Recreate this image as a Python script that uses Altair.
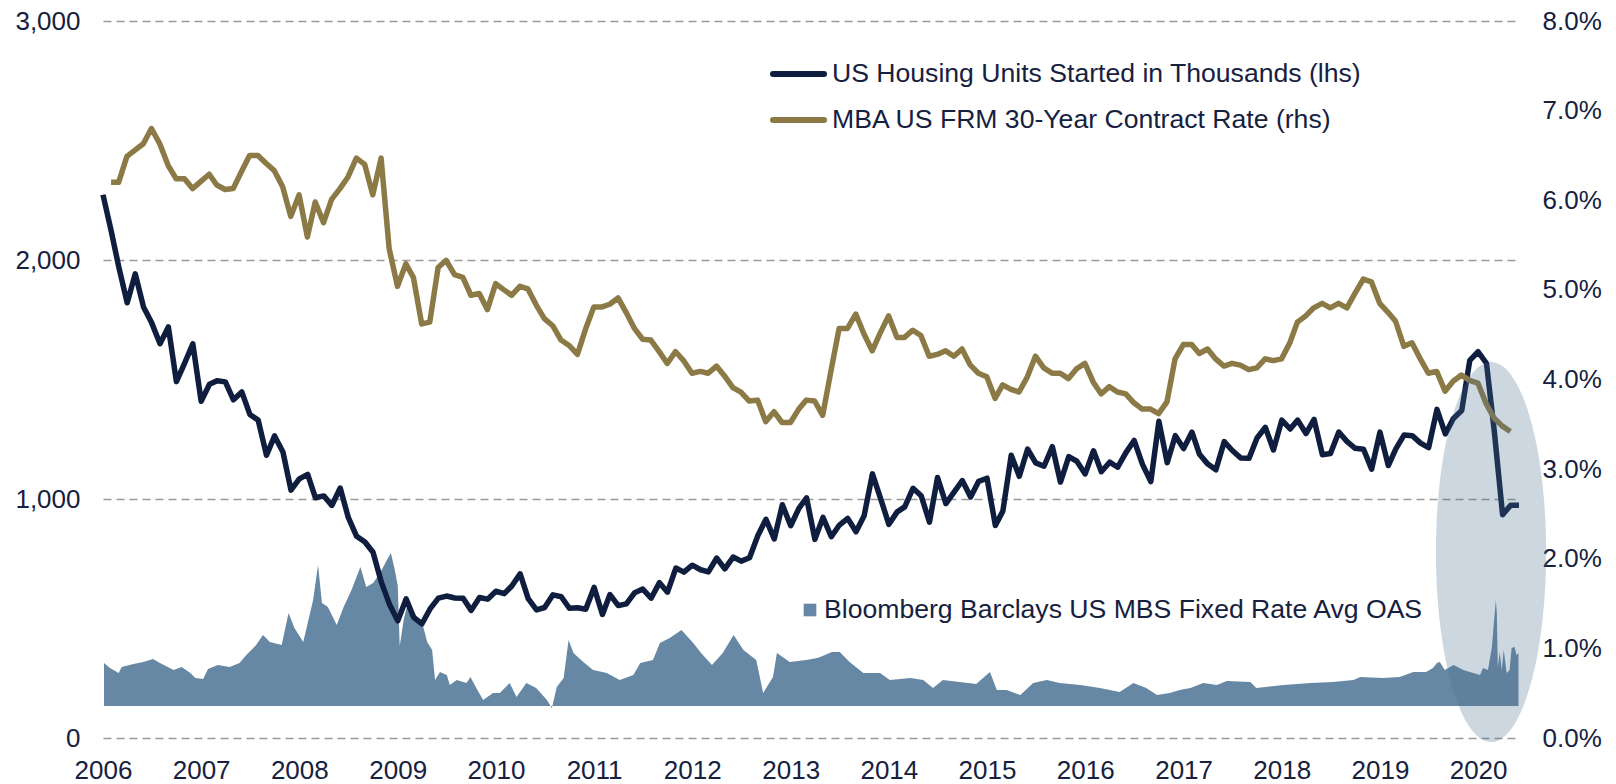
import altair as alt
import numpy as np
import pandas as pd

FONT = "Liberation Sans"
NAVY_TXT = "#16213f"
NAVY = "#0f1e3f"
GOLD = "#8c7a46"
AREA_C = "#6788a4"
GRID_C = "#999999"

# US housing starts, thousands (monthly, Jan 2006 - Jun 2020)
housing_units = [
    2273, 2119, 1969, 1821, 1942, 1802, 1737, 1650, 1720, 1491, 1570, 1649,
    1409, 1480, 1495, 1490, 1415, 1448, 1354, 1330, 1183, 1264, 1197, 1037,
    1084, 1103, 1005, 1013, 973, 1046, 923, 844, 820, 777, 652, 560,
    490, 582, 505, 478, 540, 585, 594, 586, 585, 534, 588, 581,
    614, 604, 636, 687, 583, 536, 546, 599, 591, 543, 545, 539,
    630, 517, 600, 554, 561, 608, 623, 585, 650, 610, 711, 694,
    723, 704, 695, 753, 708, 757, 740, 754, 847, 915, 833, 976,
    888, 962, 1005, 831, 923, 842, 891, 919, 863, 930, 1105, 1003,
    894, 946, 967, 1045, 1014, 903, 1090, 981, 1030, 1077, 1008, 1074,
    1087, 889, 950, 1183, 1095, 1209, 1151, 1137, 1219, 1071, 1177, 1158,
    1105, 1202, 1114, 1154, 1133, 1195, 1245, 1145, 1073, 1325, 1152, 1265,
    1211, 1280, 1187, 1146, 1122, 1240, 1203, 1172, 1170, 1255, 1300, 1205,
    1330, 1293, 1330, 1274, 1333, 1185, 1190, 1280, 1240, 1212, 1208, 1125,
    1280, 1140, 1210, 1268, 1265, 1234, 1215, 1375, 1272, 1337, 1370, 1580,
    1616, 1568, 1285, 934, 974, 974,
]

# MBA 30-year contract rate, % (month-end, Jan 2006 - Apr 2020)
rate_pct = [
    6.20, 6.20, 6.49, 6.56, 6.63, 6.80, 6.63, 6.39, 6.24, 6.24, 6.13, 6.21,
    6.29, 6.17, 6.12, 6.13, 6.32, 6.50, 6.50, 6.41, 6.33, 6.15, 5.82, 6.06,
    5.59, 5.98, 5.75, 6.01, 6.13, 6.26, 6.47, 6.40, 6.06, 6.47, 5.46, 5.04,
    5.29, 5.14, 4.62, 4.64, 5.25, 5.33, 5.17, 5.14, 4.94, 4.96, 4.78, 5.07,
    5.00, 4.94, 5.04, 5.01, 4.83, 4.68, 4.60, 4.44, 4.38, 4.28, 4.56, 4.81,
    4.81, 4.84, 4.91, 4.75, 4.57, 4.45, 4.44, 4.31, 4.18, 4.31, 4.21, 4.07,
    4.09, 4.07, 4.15, 4.04, 3.91, 3.86, 3.76, 3.77, 3.53, 3.64, 3.52, 3.52,
    3.67, 3.77, 3.76, 3.60, 4.10, 4.57, 4.57, 4.73, 4.51, 4.32, 4.52, 4.71,
    4.47, 4.47, 4.55, 4.49, 4.26, 4.28, 4.32, 4.26, 4.34, 4.16, 4.07, 4.03,
    3.79, 3.94, 3.89, 3.86, 4.03, 4.26, 4.13, 4.07, 4.07, 4.01, 4.12, 4.18,
    3.97, 3.84, 3.92, 3.86, 3.84, 3.74, 3.67, 3.67, 3.62, 3.75, 4.23, 4.39,
    4.39, 4.29, 4.34, 4.23, 4.15, 4.18, 4.16, 4.11, 4.13, 4.23, 4.21, 4.23,
    4.41, 4.64, 4.71, 4.80, 4.85, 4.80, 4.85, 4.80, 4.96, 5.12, 5.09, 4.85,
    4.75, 4.65, 4.37, 4.41, 4.23, 4.07, 4.09, 3.87, 3.98, 4.05, 3.99, 3.96,
    3.73, 3.57, 3.48, 3.42,
]

# Bloomberg Barclays US MBS Fixed Rate Avg OAS, bp (decimal-year dates)
oas_year = [
    2006.01, 2006.07, 2006.16, 2006.19, 2006.31, 2006.41, 2006.51, 2006.58, 2006.72, 2006.80,
    2006.89, 2006.94, 2007.02, 2007.07, 2007.17, 2007.29, 2007.39, 2007.46, 2007.56, 2007.63,
    2007.70, 2007.82, 2007.89, 2007.95, 2008.04, 2008.14, 2008.19, 2008.23, 2008.29, 2008.38,
    2008.45, 2008.53, 2008.62, 2008.68, 2008.75, 2008.82, 2008.89, 2008.93, 2008.97, 2009.00,
    2009.02, 2009.06, 2009.09, 2009.13, 2009.19, 2009.26, 2009.30, 2009.35, 2009.38, 2009.43,
    2009.50, 2009.53, 2009.60, 2009.70, 2009.74, 2009.80, 2009.87, 2009.97, 2010.04, 2010.14,
    2010.21, 2010.31, 2010.41, 2010.52, 2010.57, 2010.62, 2010.69, 2010.74, 2010.79, 2010.89,
    2010.99, 2011.13, 2011.26, 2011.40, 2011.47, 2011.60, 2011.67, 2011.77, 2011.89, 2012.01,
    2012.09, 2012.20, 2012.31, 2012.42, 2012.52, 2012.65, 2012.72, 2012.82, 2012.86, 2012.99,
    2013.16, 2013.27, 2013.30, 2013.42, 2013.50, 2013.60, 2013.74, 2013.91, 2014.01, 2014.22,
    2014.35, 2014.45, 2014.55, 2014.72, 2014.89, 2015.03, 2015.10, 2015.20, 2015.34, 2015.47,
    2015.61, 2015.74, 2015.95, 2016.15, 2016.35, 2016.49, 2016.62, 2016.73, 2016.86, 2016.96,
    2017.07, 2017.20, 2017.34, 2017.44, 2017.68, 2017.74, 2018.02, 2018.29, 2018.52, 2018.73,
    2018.80, 2019.03, 2019.20, 2019.34, 2019.47, 2019.54, 2019.58, 2019.61, 2019.66, 2019.75,
    2019.85, 2019.95, 2020.02, 2020.05, 2020.10, 2020.14, 2020.16, 2020.18, 2020.19, 2020.20,
    2020.22, 2020.24, 2020.26, 2020.29, 2020.32, 2020.34, 2020.37, 2020.39, 2020.41,
]
oas_bp = [
    43, 38, 33, 39, 42, 44, 47, 43, 36, 39,
    33, 28, 27, 37, 41, 39, 43, 51, 61, 71,
    64, 61, 93, 78, 64, 106, 141, 103, 99, 81,
    99, 116, 139, 119, 123, 133, 146, 153, 136, 120,
    60, 86, 98, 99, 90, 79, 64, 56, 26, 34,
    31, 21, 26, 23, 29, 18, 6, 13, 13, 23,
    9, 23, 18, 6, -2, 19, 28, 66, 53, 44,
    36, 33, 26, 31, 43, 46, 63, 68, 76, 63,
    53, 41, 53, 71, 56, 46, 13, 29, 53, 44,
    46, 48, 49, 54, 54, 44, 33, 33, 26, 28,
    26, 18, 26, 24, 22, 34, 16, 16, 11, 23,
    26, 23, 21, 18, 14, 23, 18, 11, 13, 16,
    18, 23, 21, 25, 24, 18, 21, 23, 24, 26,
    29, 28, 29, 34, 34, 38, 43, 44, 36, 41,
    36, 33, 31, 38, 36, 59, 83, 106, 93, 39,
    54, 36, 56, 33, 36, 58, 59, 51, 53,
]

# highlighted region (centre of the shaded ellipse)
highlight_date = ["2020-02-18"]
highlight_units = [778]

legend_labels = [
    "US Housing Units Started in Thousands (lhs)",
    "MBA US FRM 30-Year Contract Rate (rhs)",
    "Bloomberg Barclays US MBS Fixed Rate Avg OAS",
]


def yf_to_ts(y):
    yr = int(np.floor(y))
    start = pd.Timestamp(yr, 1, 1)
    days = (pd.Timestamp(yr + 1, 1, 1) - start).days
    return start + pd.Timedelta(days=(y - yr) * days)


h_df = pd.DataFrame({
    "date": pd.date_range("2006-01-01", periods=len(housing_units), freq="MS"),
    "units": housing_units,
})
r_df = pd.DataFrame({
    "date": pd.date_range("2006-01-01", periods=len(rate_pct), freq="MS") + pd.offsets.MonthEnd(0),
    "rate": [v / 100 for v in rate_pct],
})
o_df = pd.DataFrame({"date": [yf_to_ts(y) for y in oas_year], "oas": oas_bp})
e_df = pd.DataFrame({"date": pd.to_datetime(highlight_date), "units": highlight_units})
one = pd.DataFrame({"k": [0]})

TICK_FS = 26
LEG_FS = 26.6

x_scale = alt.Scale(domain=[alt.DateTime(year=2006, month=1, date=1),
                            alt.DateTime(year=2020, month=6, date=1)])
x_axis = alt.Axis(values=[alt.DateTime(year=y, month=1, date=1) for y in range(2006, 2021)],
                  format="%Y", labelFontSize=TICK_FS, labelColor=NAVY_TXT, labelFont=FONT,
                  domain=False, ticks=False, tickSize=0, grid=False, labelPadding=19,
                  labelFlush=False, title=None)
x_enc = alt.X("date:T", scale=x_scale, axis=x_axis, title=None)

area = alt.Chart(o_df).mark_area(color=AREA_C, interpolate="linear").encode(
    x=x_enc,
    y=alt.Y("oas:Q", scale=alt.Scale(domain=[-32, 685], zero=False, nice=False), axis=None),
)

housing = alt.Chart(h_df).mark_line(color=NAVY, strokeWidth=5.5, strokeJoin="round").encode(
    x=x_enc,
    y=alt.Y("units:Q", scale=alt.Scale(domain=[0, 3000], nice=False),
            axis=alt.Axis(orient="left", values=[0, 1000, 2000, 3000], format=",.0f",
                          grid=True, gridDash=[8, 5], gridColor=GRID_C, gridWidth=1.6,
                          domain=False, ticks=False, tickSize=0, labelPadding=23,
                          labelFontSize=TICK_FS, labelColor=NAVY_TXT, labelFont=FONT,
                          title=None)),
)

rate = alt.Chart(r_df).mark_line(color=GOLD, strokeWidth=5.5, strokeJoin="round").encode(
    x=x_enc,
    y=alt.Y("rate:Q", scale=alt.Scale(domain=[0, 0.08], nice=False),
            axis=alt.Axis(orient="right", values=[i / 100 for i in range(9)], format=".1%",
                          grid=False, domain=False, ticks=False, tickSize=0, labelPadding=23,
                          labelFontSize=TICK_FS, labelColor=NAVY_TXT, labelFont=FONT,
                          title=None)),
)

ELLIPSE = "M -0.29 0 A 0.29 1 0 1 0 0.29 0 A 0.29 1 0 1 0 -0.29 0 Z"
ellipse = alt.Chart(e_df).mark_point(shape=ELLIPSE, size=380 * 380, filled=True,
                                     color="#4a6f8f", fillOpacity=0.28, opacity=1,
                                     strokeWidth=0).encode(
    x=x_enc,
    y=alt.Y("units:Q", scale=alt.Scale(domain=[0, 3000], nice=False), axis=None),
)

leg_line1 = alt.Chart(one).mark_rule(color=NAVY, strokeWidth=6, strokeCap="round").encode(
    x=alt.value(670), x2=alt.value(721), y=alt.value(53))
leg_line2 = alt.Chart(one).mark_rule(color=GOLD, strokeWidth=6, strokeCap="round").encode(
    x=alt.value(670), x2=alt.value(721), y=alt.value(99))
leg_sq = alt.Chart(one).mark_square(color=AREA_C, size=160, opacity=1).encode(
    x=alt.value(707), y=alt.value(589))
txt_kw = dict(font=FONT, fontSize=LEG_FS, color=NAVY_TXT, align="left", baseline="middle")
leg_t1 = alt.Chart(one).mark_text(**txt_kw).encode(
    x=alt.value(729), y=alt.value(53), text=alt.value(legend_labels[0]))
leg_t2 = alt.Chart(one).mark_text(**txt_kw).encode(
    x=alt.value(729), y=alt.value(99), text=alt.value(legend_labels[1]))
leg_t3 = alt.Chart(one).mark_text(**txt_kw).encode(
    x=alt.value(721), y=alt.value(589), text=alt.value(legend_labels[2]))

chart = alt.layer(
    area, housing, rate, ellipse,
    leg_line1, leg_line2, leg_sq, leg_t1, leg_t2, leg_t3,
).resolve_scale(y="independent").properties(
    width=1416, height=717,
    padding={"left": 95, "top": 13, "right": 87, "bottom": 48},
    autosize=alt.AutoSizeParams(type="none"),
    background="white",
).configure_view(strokeWidth=0)

chart.save("out.html", embed_options={"renderer": "svg", "actions": False})
